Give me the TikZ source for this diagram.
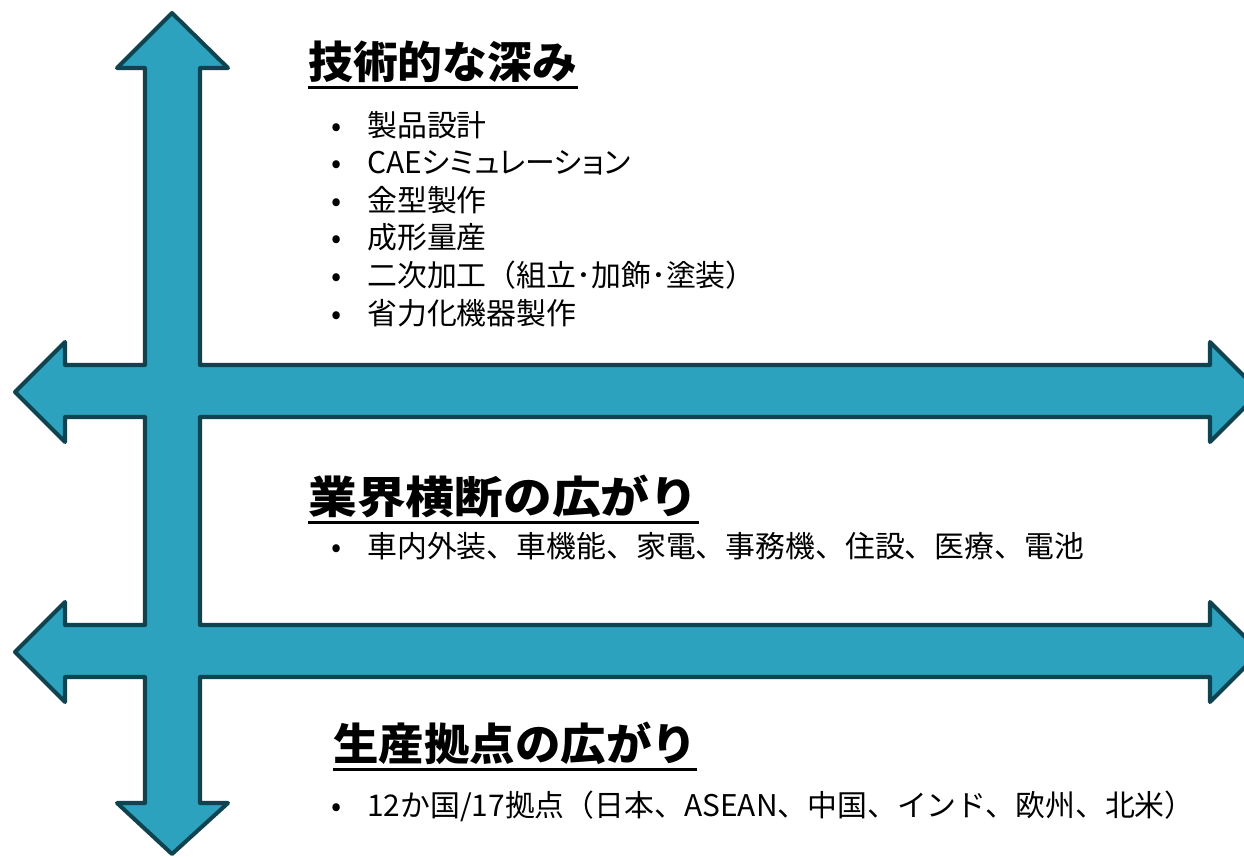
\documentclass[tikz,border=0pt]{standalone}
\usepackage{fontspec}
\setmainfont{Noto Sans CJK JP}
\usepackage{graphicx}
\usepackage{tikz}
\usetikzlibrary{positioning}

\definecolor{crossfill}{HTML}{2CA2BF}
\definecolor{crossline}{HTML}{0F4350}

\newcommand{\bitem}[1]{\makebox[0.72cm][l]{•}#1}
\newcommand{\narrow}{\addfontfeature{CharacterWidth=AlternateProportional}}

\begin{document}
\begin{tikzpicture}[x=0.02cm,y=-0.02cm]

 \tikzset{heading/.style={
 		anchor=base west,
 		inner sep=0pt,
 		font=\bfseries\fontsize{25}{30}\selectfont
 	},
 	bullets/.style={
 		anchor=base west,
 		inner sep=0pt,
 		align=left,
 		font=\fontsize{17}{21.4}\selectfont
 	},
 	underbar/.style={line width=1.7pt}
 }
 \useasboundingbox (0,0) rectangle (1244,856);
 \clip (0,0) rectangle (1244,856);

 % one vertical and two horizontal double arrows
 \draw[fill=crossfill, draw=crossline, line width=2.3pt, line join=round]
 	(172,13) -- (228,68) -- (200,68) -- (200,365)
 	-- (1210,365) -- (1210,342) -- (1260,392) -- (1210,442) -- (1210,417)
 	-- (200,417) -- (200,625)
 	-- (1210,625) -- (1210,602) -- (1260,652) -- (1210,702) -- (1210,677)
 	-- (200,677) -- (200,803) -- (228,803) -- (172,854) -- (117,803) -- (145,803)
 	-- (145,677) -- (65,677) -- (65,702) -- (15,652) -- (65,602) -- (65,625)
 	-- (145,625) -- (145,417) -- (65,417) -- (65,442) -- (15,392) -- (65,342)
 	-- (65,365) -- (145,365) -- (145,68) -- (117,68) -- cycle;

 % base of a list node is its last line
 \node[heading] (depth) at (308,78) {\scalebox{1.02}[1]{技術的な深み}};
 \node[bullets] (depthlist) at (331,324) {%
 	\bitem{製品設計}\\
 	\bitem{{\narrow CAEシミュレーション}}\\
 	\bitem{金型製作}\\
 	\bitem{成形量産}\\
 	\bitem{二次加工（組立･加飾･塗装）}\\
 	\bitem{省力化機器製作}};

 \node[heading] (width) at (308,513) {\scalebox{1.11}[1]{業界横断の広がり}};
 \node[bullets] (widthlist) at (331,557) {\bitem{車内外装、車機能、家電、事務機、住設、医療、電池}};

 \node[heading] (sites) at (333,760) {\scalebox{1.035}[1]{生産拠点の広がり}};
 \node[bullets] (siteslist) at (331,816) {\bitem{12か国/17拠点（日本、ASEAN、中国、インド、欧州、北米）}};

 \foreach \t in {depth,width,sites}
 	\draw[underbar] ([yshift=-5.6pt]\t.base west) -- ([yshift=-5.6pt]\t.base east);

\end{tikzpicture}
\end{document}
